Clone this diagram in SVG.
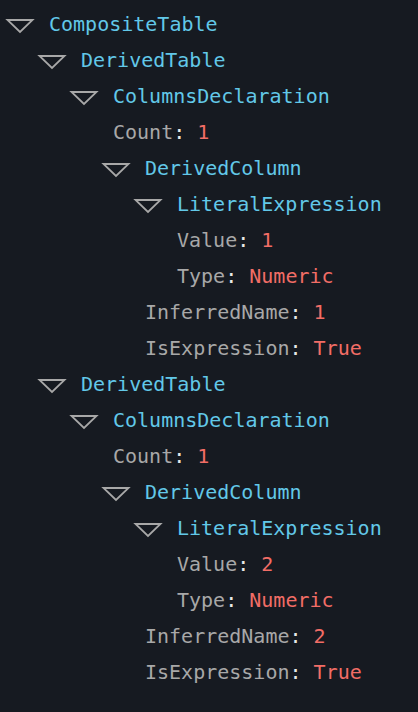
<svg xmlns="http://www.w3.org/2000/svg" width="418" height="712" viewBox="0 0 418 712">
<defs>
<style>
text{font-family:"DejaVu Sans Mono","Liberation Mono",monospace;font-size:20px}
.n{fill:#62c8e8}
.k{fill:#a8a8a8}
.c{fill:#e8e8e8}
.v{fill:#f26d66}
.t{fill:none;stroke:#a8a8a8;stroke-width:1.8;stroke-linejoin:miter}
</style>
<polygon id="tri" class="t" points="0,0 25,0 12.5,12"/>
</defs>
<rect width="418" height="712" fill="#161a21"/>
<g id="connectors"/>
<g id="n0"><use href="#tri" x="7.5" y="20"/><text x="49" y="31" class="n">CompositeTable</text></g>
<g id="n1"><use href="#tri" x="39.5" y="56"/><text x="81" y="67" class="n">DerivedTable</text></g>
<g id="n2"><use href="#tri" x="71.5" y="92"/><text x="113" y="103" class="n">ColumnsDeclaration</text></g>
<g id="n3"><text x="113" y="139"><tspan class="k">Count</tspan><tspan class="c">:</tspan><tspan class="v"> 1</tspan></text></g>
<g id="n4"><use href="#tri" x="103.5" y="164"/><text x="145" y="175" class="n">DerivedColumn</text></g>
<g id="n5"><use href="#tri" x="135.5" y="200"/><text x="177" y="211" class="n">LiteralExpression</text></g>
<g id="n6"><text x="177" y="247"><tspan class="k">Value</tspan><tspan class="c">:</tspan><tspan class="v"> 1</tspan></text></g>
<g id="n7"><text x="177" y="283"><tspan class="k">Type</tspan><tspan class="c">:</tspan><tspan class="v"> Numeric</tspan></text></g>
<g id="n8"><text x="145" y="319"><tspan class="k">InferredName</tspan><tspan class="c">:</tspan><tspan class="v"> 1</tspan></text></g>
<g id="n9"><text x="145" y="355"><tspan class="k">IsExpression</tspan><tspan class="c">:</tspan><tspan class="v"> True</tspan></text></g>
<g id="n10"><use href="#tri" x="39.5" y="380"/><text x="81" y="391" class="n">DerivedTable</text></g>
<g id="n11"><use href="#tri" x="71.5" y="416"/><text x="113" y="427" class="n">ColumnsDeclaration</text></g>
<g id="n12"><text x="113" y="463"><tspan class="k">Count</tspan><tspan class="c">:</tspan><tspan class="v"> 1</tspan></text></g>
<g id="n13"><use href="#tri" x="103.5" y="488"/><text x="145" y="499" class="n">DerivedColumn</text></g>
<g id="n14"><use href="#tri" x="135.5" y="524"/><text x="177" y="535" class="n">LiteralExpression</text></g>
<g id="n15"><text x="177" y="571"><tspan class="k">Value</tspan><tspan class="c">:</tspan><tspan class="v"> 2</tspan></text></g>
<g id="n16"><text x="177" y="607"><tspan class="k">Type</tspan><tspan class="c">:</tspan><tspan class="v"> Numeric</tspan></text></g>
<g id="n17"><text x="145" y="643"><tspan class="k">InferredName</tspan><tspan class="c">:</tspan><tspan class="v"> 2</tspan></text></g>
<g id="n18"><text x="145" y="679"><tspan class="k">IsExpression</tspan><tspan class="c">:</tspan><tspan class="v"> True</tspan></text></g>
</svg>
